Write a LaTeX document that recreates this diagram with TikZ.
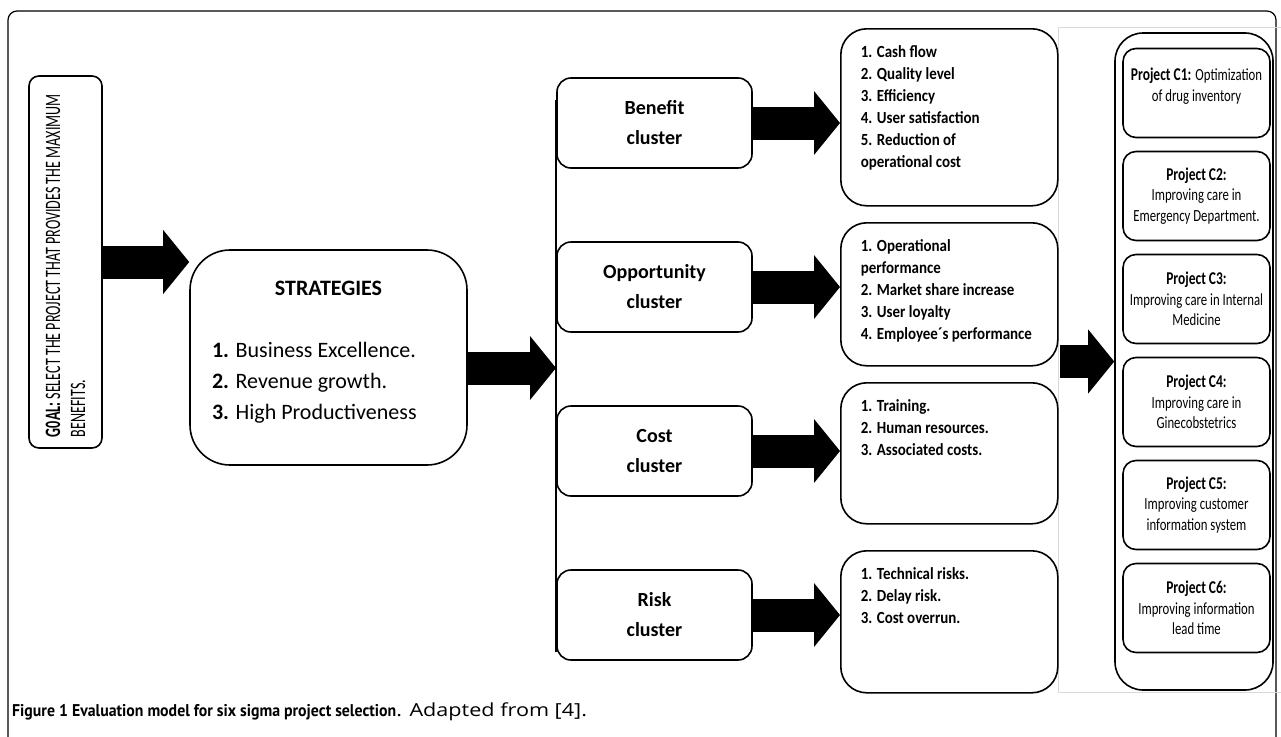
\documentclass[tikz,border=0pt]{standalone}
\usepackage{fontspec}
\setmainfont{Carlito}
\newfontfamily\goalfont[FakeStretch=0.64]{Carlito}
\newfontfamily\listfont[FakeStretch=0.88]{Carlito}
\newfontfamily\projfont[FakeStretch=0.75]{Carlito}
\newfontfamily\capfont[FakeStretch=1.2]{Open Sans}
\newfontfamily\capboldfont[FakeStretch=0.93]{PT Sans Bold}
\usetikzlibrary{arrows.meta}
\tikzset{box/.style={draw,line width=1.6pt,rounded corners=14pt},
  cluster/.style={box,minimum width=195pt,minimum height=90pt,align=center,font=\bfseries\fontsize{20}{30}\selectfont},
  factors/.style={box,rounded corners=26pt,anchor=north west,inner xsep=20pt,inner ysep=17pt,font=\listfont\bfseries\fontsize{17}{22}\selectfont},
  project/.style={box,rounded corners=13pt,node distance=103pt,minimum width=147pt,minimum height=89pt,align=center,font=\projfont\fontsize{17}{20.5}\selectfont},
  blockarrow/.style={line width=33pt,-{Triangle[length=26pt,width=64pt,line width=0pt]}}}

\begin{document}
\begin{tikzpicture}[x=1pt,y=-1pt,node distance=164pt]
        \clip (0,0) rectangle (1281,736);
        \draw[line width=1.2pt,rounded corners=9pt] (8,11) rectangle (1276,760);
        \draw[gray!30,line width=0.8pt] (1058,27) rectangle (1290,692);
        \node[box,rounded corners=10pt,minimum width=73pt,minimum height=372pt,inner sep=0pt] (goal) at (65.5,262)
            {\rotatebox{90}{\parbox{350pt}{\goalfont\fontsize{22}{25}\selectfont\textbf{G0AL:} SELECT THE PROJECT THAT PROVIDES THE MAXIMUM\\BENEFITS.}}};
        \node[box,rounded corners=40pt,inner xsep=22pt,inner ysep=31pt] (strat) at (328.5,357.5)
            {\parbox[c][153pt][t]{233pt}{\centering\bfseries\fontsize{22}{26}\selectfont STRATEGIES\par\vspace{31pt}
            \raggedright\mdseries\fontsize{22}{31}\selectfont\textbf{1.} Business Excellence.\\\textbf{2.} Revenue growth.\\\textbf{3.} High Productiveness}};
        \node[cluster] (benefit) at (654.5,123) {Benefit\\cluster};
        \node[cluster, below of=benefit] (opport) {Opportunity\\cluster};
        \node[cluster, below of=opport] (cost) {Cost\\cluster};
        \node[cluster, below of=cost] (risk) {Risk\\cluster};
        \node[factors] (benlist) at (840,28) {\parbox[c][143pt][t]{177pt}{1. Cash flow\\2. Quality level\\3. Efficiency\\4. User satisfaction\\5. Reduction of\\operational cost}};
        \node[factors] (opplist) at (840,222) {\parbox[c][109pt][t]{177pt}{1. Operational\\performance\\2. Market share increase\\3. User loyalty\\4. Employee´s performance}};
        \node[factors] (costlist) at (840,382) {\parbox[c][107pt][t]{177pt}{1. Training.\\2. Human resources.\\3. Associated costs.}};
        \node[factors] (risklist) at (840,550) {\parbox[c][108pt][t]{177pt}{1. Technical risks.\\2. Delay risk.\\3. Cost overrun.}};
        \node[box,rounded corners=28pt,minimum width=158pt,minimum height=657pt] (projects) at (1194,361.5) {};
        \node[project] (c1) at (1196.5,93) {\parbox[c][50pt][t]{140pt}{\centering\fontsize{18}{20.5}\selectfont\textbf{Project C1:} \fontsize{17}{20.5}\selectfont Optimization\\of drug inventory}};
        \node[project, below of=c1] (c2) {{\bfseries\fontsize{18}{20.5}\selectfont Project C2:}\\Improving care in\\Emergency Department.};
        \node[project, below of=c2] (c3) {{\bfseries\fontsize{18}{20.5}\selectfont Project C3:}\\Improving care in Internal\\Medicine};
        \node[project, below of=c3] (c4) {{\bfseries\fontsize{18}{20.5}\selectfont Project C4:}\\Improving care in\\Ginecobstetrics};
        \node[project, below of=c4] (c5) {{\bfseries\fontsize{18}{20.5}\selectfont Project C5:}\\Improving customer\\information system};
        \node[project, below of=c5] (c6) {{\bfseries\fontsize{18}{20.5}\selectfont Project C6:}\\Improving information\\lead time};
        \node[anchor=west,inner sep=0pt,font=\capfont\fontsize{18}{20}\selectfont] (caption) at (12,712)
            {{\capboldfont\fontsize{17}{20}\selectfont Figure 1 Evaluation model for six sigma project selection}. Adapted from [4].};
        \coordinate (bustop) at (556,100);
        \coordinate (busend) at (556,652);
        \coordinate (bus) at (556,368);
        \coordinate (lead) at (1060,361.5);
        \draw[line width=1.6pt] (bustop) -- (busend);
        \draw (goal.east) edge[blockarrow] (goal.east -| strat.west)
        (strat.east |- bus) edge[blockarrow] (bus)
        (benefit.east) edge[blockarrow] (benefit.east -| benlist.west)
        (opport.east) edge[blockarrow] (opport.east -| opplist.west)
        (cost.east) edge[blockarrow] (cost.east -| costlist.west)
        (risk.east) edge[blockarrow] (risk.east -| risklist.west)
        (lead) edge[blockarrow] (projects.west);
    \end{tikzpicture}
\end{document}
